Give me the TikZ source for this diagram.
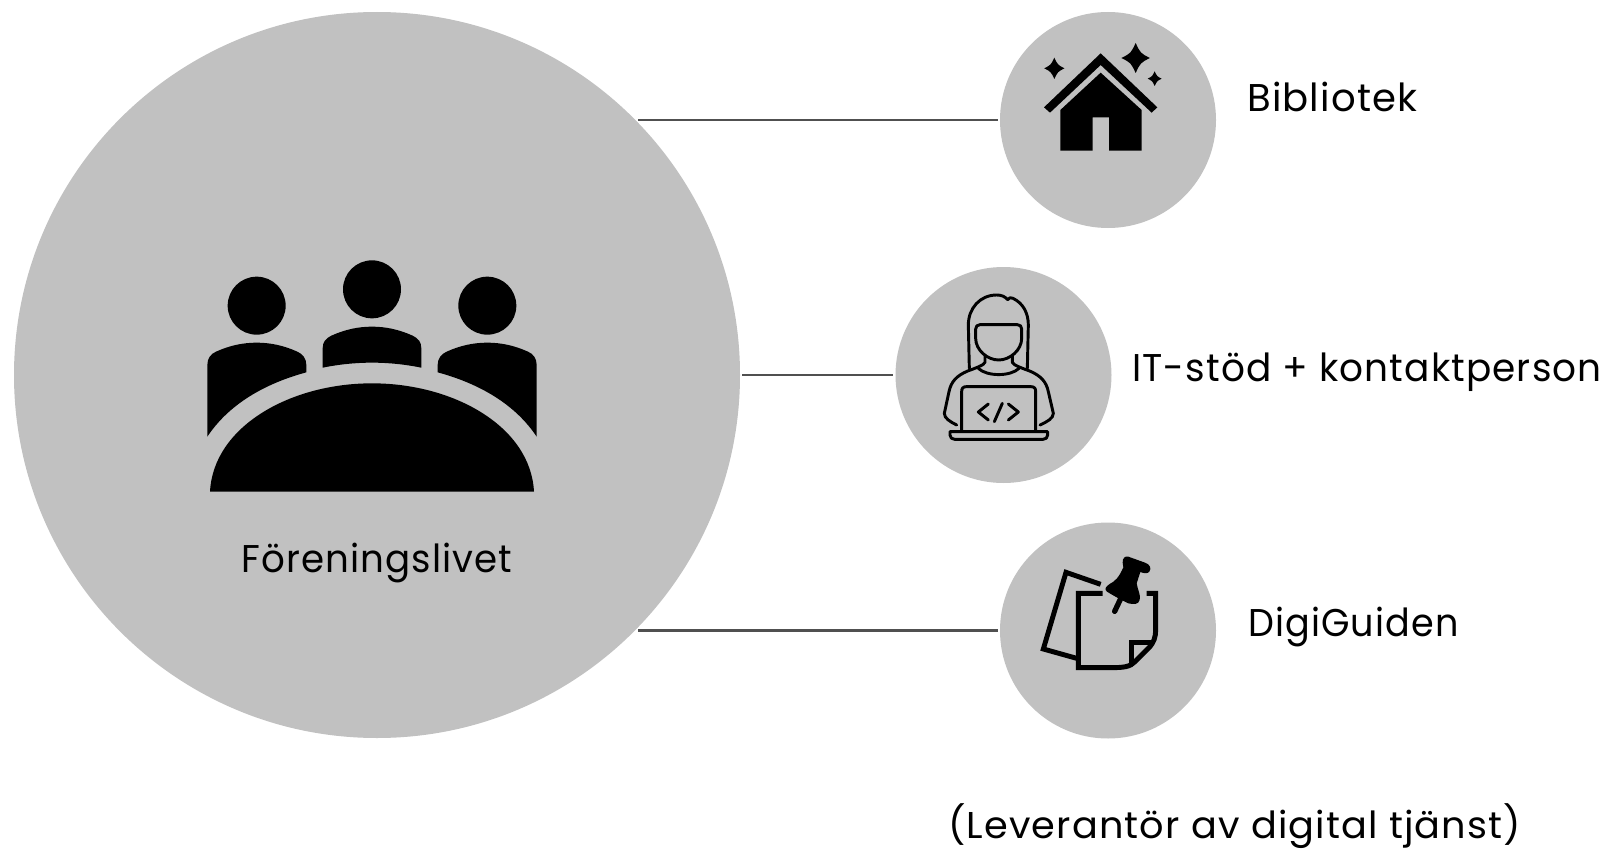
\documentclass[tikz,border=0pt]{standalone}
\usepackage{graphicx}
\usepackage{fontspec}
\setmainfont{Poppins}[LetterSpace=3]
\begin{document}
\begin{tikzpicture}[x=0.75pt,y=-0.75pt,
  disc/.style={circle,fill=discgray,draw=none,inner sep=0pt,outer sep=0pt},
  link/.style={draw=linkgray,line width=1.7pt,shorten >=1.6pt},
  lab/.style={anchor=base west,inner sep=0pt,font=\fontsize{29pt}{36pt}\selectfont,text=black},
  ink/.style={fill=black,draw=none},
  stroke/.style={draw=black,line width=2.2pt,line cap=round,line join=round},
  thick stroke/.style={draw=black,line width=3.7pt,line join=miter},
  zoomA/.style={shift={(180,240)},scale=1/3},
  zoomB/.style={shift={(1020,30)},scale=1/3},
  zoomC/.style={shift={(925,285)},scale=1/3},
  zoomD/.style={shift={(1030,545)},scale=1/3},
  zoomF/.style={shift={(1095,550)},scale=1/3}]
\definecolor{discgray}{HTML}{C1C1C1}
\definecolor{linkgray}{HTML}{505050}
\useasboundingbox (0,0) rectangle (1607,849);
\fill[white] (0,0) rectangle (1607,849);
% discs
\node[disc,minimum size=726*0.75pt] (big) at (377,375) {};
\node[disc,minimum size=216*0.75pt] (lib) at (1108,120) {};
\node[disc,minimum size=216*0.75pt] (it) at (1003.5,375) {};
\node[disc,minimum size=216*0.75pt] (dg) at (1108,630.5) {};
% connectors
\draw[link] (lib.west -| big.44.6) -- (lib.west);
\draw[link,shorten <=1.6pt] (big.east) -- (it.west);
\draw[link] (dg.west -| big.-44.6) -- (dg.west);
% labels
\node[lab] (t1) at (1247,112) {\scalebox{.998}[1]{Bibliotek}};
\node[lab] (t2) at (1132,381) {\scalebox{.968}[1]{IT-stöd + kontaktperson}};
\node[lab] (t3) at (1248,636) {\scalebox{.946}[1]{DigiGuiden}};
\node[lab] (t4) at (241,572) {\scalebox{.962}[1]{Föreningslivet}};
\node[lab,font=\fontsize{28pt}{34pt}\selectfont] (t5) at (948,838) {\scalebox{1.025}[1]{(Leverantör av digital tjänst)}};
% meeting icon
\begin{scope}[zoomA]
\fill[ink] (230,197) circle (87);
\fill[ink] (576,148) circle (87);
\fill[ink] (922,197) circle (87);
\fill[ink] (90,755) .. controls (100,560) and (330,430) .. (576,430)
  .. controls (822,430) and (1052,560) .. (1062,755) -- cycle;
\fill[ink] (82,590) -- (82,375) .. controls (82,355) and (92,342) .. (108,335)
  .. controls (150,316) and (190,308) .. (230,308)
  .. controls (270,308) and (310,316) .. (352,335)
  .. controls (368,342) and (379,355) .. (379,375) -- (379,397)
  .. controls (250,432) and (145,495) .. (82,590) -- cycle;
\fill[ink] (1070,590) -- (1070,375) .. controls (1070,355) and (1060,342) .. (1044,335)
  .. controls (1002,316) and (962,308) .. (922,308)
  .. controls (882,308) and (842,316) .. (800,335)
  .. controls (784,342) and (773,355) .. (773,375) -- (773,397)
  .. controls (902,432) and (1007,495) .. (1070,590) -- cycle;
\fill[ink] (428,383) -- (428,325) .. controls (428,305) and (438,295) .. (454,287)
  .. controls (496,268) and (536,260) .. (576,260)
  .. controls (616,260) and (656,268) .. (698,287)
  .. controls (714,295) and (724,305) .. (724,325) -- (724,383)
  .. controls (675,373) and (625,368) .. (576,368)
  .. controls (527,368) and (477,373) .. (428,383) -- cycle;
\end{scope}
% house icon
\begin{scope}[zoomB]
\fill[ink] (72,232) -- (242,70) -- (412,232) -- (395,248) -- (242,105) -- (90,248) -- cycle;
\fill[ink] (121,362) -- (121,240) -- (242,128) -- (365,240) -- (365,362) -- (267,362)
  -- (267,262) -- (218,262) -- (218,362) -- cycle;
\foreach \cx/\cy/\r in {103/115/32,347/84/45,404/146/22}{
  \fill[ink] (\cx,\cy-\r) .. controls (\cx+0.32*\r,\cy-0.32*\r) .. (\cx+\r*0.95,\cy)
    .. controls (\cx+0.32*\r,\cy+0.32*\r) .. (\cx,\cy+\r)
    .. controls (\cx-0.32*\r,\cy+0.32*\r) .. (\cx-\r*0.95,\cy)
    .. controls (\cx-0.32*\r,\cy-0.32*\r) .. (\cx,\cy-\r) -- cycle;
}
\end{scope}
% IT person icon
\begin{scope}[zoomC]
\draw[stroke] (133,250) -- (130,120) .. controls (130,70) and (165,30) .. (215,30)
  .. controls (228,30) and (240,34) .. (248,44) .. controls (252,38) and (258,36) .. (264,40)
  .. controls (295,55) and (310,85) .. (310,120) -- (307,250);
\draw[stroke] (165,119) -- (277,119) .. controls (285,119) and (290,124) .. (290,132) -- (290,160)
  .. controls (290,195) and (255,225) .. (221,225)
  .. controls (187,225) and (152,195) .. (152,160) -- (152,132)
  .. controls (152,124) and (157,119) .. (165,119) -- cycle;
\draw[stroke] (180,212) -- (180,232) .. controls (178,240) and (150,250) .. (128,258)
  .. controls (95,272) and (78,290) .. (72,320) -- (58,385)
  .. controls (58,400) and (75,410) .. (95,420);
\draw[stroke] (262,212) -- (262,232) .. controls (264,240) and (292,250) .. (314,258)
  .. controls (347,272) and (364,290) .. (370,320) -- (385,385)
  .. controls (385,400) and (367,410) .. (345,420);
\draw[stroke] (160,250) .. controls (185,275) and (257,275) .. (282,250);
\draw[stroke] (110,438) -- (110,320) .. controls (110,310) and (114,305) .. (124,305)
  -- (318,305) .. controls (328,305) and (332,310) .. (332,320) -- (332,438);
\draw[stroke] (75,440) -- (368,440) -- (368,450) .. controls (368,458) and (362,463) .. (354,463)
  -- (89,463) .. controls (81,463) and (75,458) .. (75,450) -- cycle;
\draw[stroke] (190,357) -- (160,381) -- (190,405);
\draw[stroke] (232,355) -- (208,410);
\draw[stroke] (250,357) -- (280,381) -- (250,405);
\end{scope}
% note and pin icon
\begin{scope}[zoomD]
\draw[thick stroke] (212,118) -- (108,82) -- (40,312) -- (140,340);
\draw[thick stroke] (218,145) -- (145,145) -- (145,368) -- (240,368)
  .. controls (285,368) and (300,365) .. (315,350) -- (355,310)
  .. controls (372,293) and (377,275) .. (377,255) -- (377,145) -- (350,145);
\draw[thick stroke] (372,293) -- (305,293) -- (305,355);
\end{scope}
\begin{scope}[zoomF]
\fill[ink] (83,38) .. controls (82,25) and (90,17) .. (100,20) -- (150,38)
  .. controls (165,43) and (170,55) .. (163,65)
  .. controls (158,72) and (145,70) .. (136,66)
  -- (125,100) .. controls (128,120) and (138,135) .. (134,150)
  .. controls (130,165) and (115,163) .. (100,160)
  .. controls (75,148) and (52,135) .. (36,125)
  .. controls (27,118) and (32,110) .. (44,102)
  .. controls (60,94) and (72,82) .. (85,52) -- cycle;
\draw[black,line width=4pt,line cap=round] (76,148) -- (59,184);
\end{scope}
\end{tikzpicture}
\end{document}
